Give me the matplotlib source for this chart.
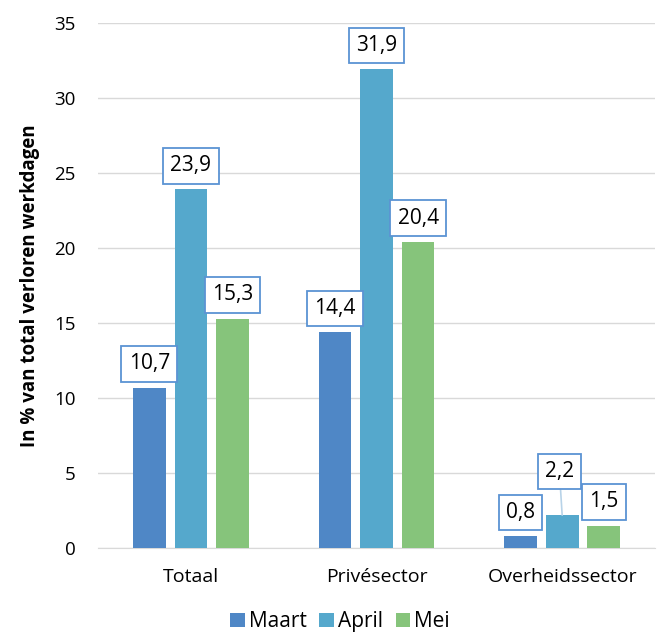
import numpy as np
import matplotlib.pyplot as plt

categories = ["Totaal", "Privésector", "Overheidssector"]
months = ["Maart", "April", "Mei"]
maart = [10.7, 14.4, 0.8]
april = [23.9, 31.9, 2.2]
mei = [15.3, 20.4, 1.5]

colors = ["#4F87C6", "#55A8CC", "#86C47B"]
BOX = "#5B93D3"

plt.rcParams["font.family"] = ["Open Sans", "DejaVu Sans"]

fig = plt.figure(figsize=(6.67, 6.33), dpi=100)
ax = fig.add_axes([0.147, 0.134, 0.835, 0.83])

x = np.arange(len(categories))
step = 0.224
width = 0.176
series = [maart, april, mei]

for i, (vals, name, col) in enumerate(zip(series, months, colors)):
    pos = x + (i - 1) * step
    ax.bar(pos, vals, width=width, color=col, label=name, zorder=3)
    for j, (px, v) in enumerate(zip(pos, vals)):
        txt = f"{v:.1f}".replace(".", ",")
        box = dict(boxstyle="square,pad=0.35", fc="white", ec=BOX, lw=1.3)
        # small public-sector values: lift the April label and add a leader line
        if j == 2 and i == 1:
            ax.annotate(txt, xy=(px, v), xytext=(-2, 24), textcoords="offset points",
                        ha="center", va="bottom", fontsize=15, bbox=box,
                        arrowprops=dict(arrowstyle="-", color="#B8D3E8", lw=1.2,
                                        shrinkA=0, shrinkB=0),
                        zorder=5)
        else:
            ax.annotate(txt, xy=(px, v), xytext=(0, 9.5), textcoords="offset points",
                        ha="center", va="bottom", fontsize=15, bbox=box,
                        zorder=5)

ax.set_xlim(-0.5, 2.5)
ax.set_ylim(0, 35)
ax.set_yticks(range(0, 36, 5))
ax.set_xticks(x)
ax.set_xticklabels(categories, fontsize=14)
ax.tick_params(axis="y", labelsize=13.5, length=0, pad=16)
ax.tick_params(axis="x", length=0, pad=14)
ax.grid(axis="y", color="#D9D9D9", lw=1, zorder=0)
for s in ["top", "right", "left"]:
    ax.spines[s].set_visible(False)
ax.spines["bottom"].set_color("#D9D9D9")
ax.set_ylabel("In % van total verloren werkdagen", fontsize=13.5, fontweight="bold", labelpad=10)

fig.legend(loc="center", bbox_to_anchor=(0.51, 0.018), ncol=3, frameon=False,
           fontsize=15, handlelength=0.7, handleheight=0.7, handletextpad=0.2,
           columnspacing=0.6, borderpad=0.1)

fig.savefig("out.png", dpi=100)
